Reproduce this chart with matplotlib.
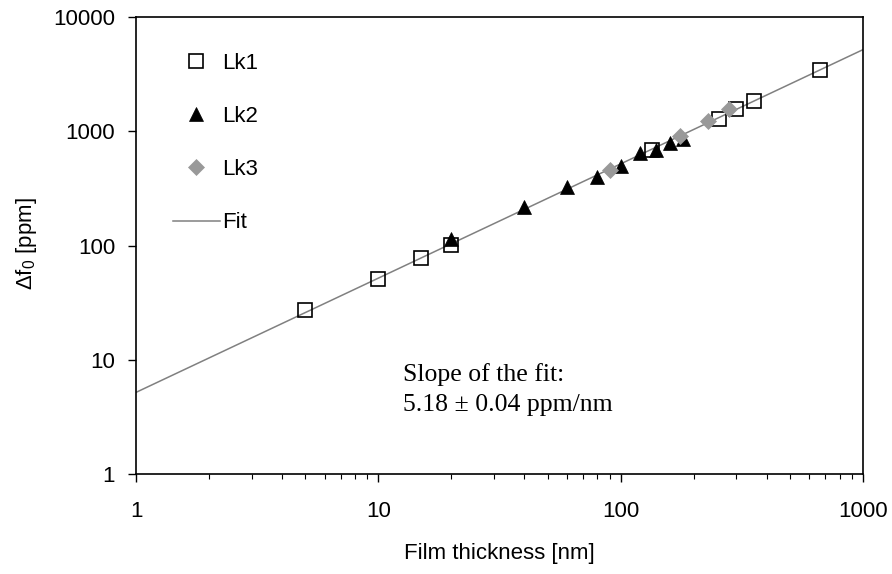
import matplotlib
matplotlib.use("Agg")
import matplotlib.pyplot as plt
from matplotlib.ticker import FixedLocator, FixedFormatter, LogLocator, NullFormatter, NullLocator
from matplotlib.lines import Line2D

plt.rcParams['font.family'] = ['Liberation Sans', 'DejaVu Sans']
plt.rcParams['mathtext.default'] = 'regular'

# ---- data ----
lk1_x = [5, 10, 15, 20, 135, 255, 300, 355, 665]
lk1_y = [27, 51, 77, 101, 685, 1270, 1555, 1840, 3430]

lk2_x = [20, 40, 60, 80, 100, 120, 140, 160, 180]
lk2_y = [115, 218, 323, 395, 496, 641, 685, 794, 855]

lk3_x = [90, 175, 230, 280]
lk3_y = [458, 914, 1236, 1566]

fit_x = [1, 1000]
fit_y = [5.18, 5180]

x_ticks = [1, 10, 100, 1000]
x_ticklabels = ["1", "10", "100", "1000"]
y_ticks = [1, 10, 100, 1000, 10000]
y_ticklabels = ["1", "10", "100", "1000", "10000"]

annotation = "Slope of the fit:\n5.18 \u00b1 0.04 ppm/nm"

# ---- figure ----
fig = plt.figure(figsize=(8.92, 5.74), dpi=100)
ax = fig.add_axes([136/892, 1 - 474/574, (863-136)/892, (474-17)/574])

sq = dict(ls='none', marker='s', ms=9.5, mfc='none', mec='black', mew=1.2)
tri = dict(ls='none', marker='^', ms=9.5, mfc='black', mec='black', mew=0.5)
dia = dict(ls='none', marker='D', ms=7.8, mfc='#999999', mec='#999999', mew=0.5)
fitst = dict(color='#808080', lw=1.1)

ax.plot(fit_x, fit_y, zorder=1, **fitst)
ax.plot(lk1_x, lk1_y, zorder=2, **sq)
ax.plot(lk2_x, lk2_y, zorder=3, **tri)
ax.plot(lk3_x, lk3_y, zorder=4, **dia)

ax.set_xscale('log')
ax.set_yscale('log')
ax.set_xlim(1, 1000)
ax.set_ylim(1, 10000)

ax.xaxis.set_major_locator(FixedLocator(x_ticks))
ax.xaxis.set_major_formatter(FixedFormatter(x_ticklabels))
ax.xaxis.set_minor_locator(LogLocator(base=10, subs=[2, 3, 4, 5, 6, 7, 8, 9]))
ax.xaxis.set_minor_formatter(NullFormatter())
ax.yaxis.set_major_locator(FixedLocator(y_ticks))
ax.yaxis.set_major_formatter(FixedFormatter(y_ticklabels))
ax.yaxis.set_minor_locator(NullLocator())

ax.tick_params(axis='x', which='major', direction='out', length=5.5, width=1.0, labelsize=16, pad=14)
ax.tick_params(axis='x', which='minor', direction='out', length=3.5, width=0.8)
ax.tick_params(axis='y', which='major', direction='out', length=6, width=1.0, labelsize=16, pad=9)

for s in ax.spines.values():
    s.set_linewidth(1.2)
    s.set_color('black')

ax.set_xlabel("Film thickness [nm]", fontsize=16, labelpad=15)
ax.set_ylabel(r"$\Delta$f$_0$ [ppm]", fontsize=16)
ax.yaxis.set_label_coords(-0.133, 0.505)

ax.text(0.367, 0.242, annotation, transform=ax.transAxes, ha='left', va='top',
        fontsize=18.5, family='Liberation Serif', linespacing=1.45)

handles = [Line2D([], [], **sq), Line2D([], [], **tri), Line2D([], [], **dia), Line2D([], [], **fitst)]
labels = ["Lk1", "Lk2", "Lk3", "Fit"]
ax.legend(handles, labels, loc='upper left', bbox_to_anchor=(0.051, 0.922),
          frameon=False, fontsize=16, handlelength=2.1, handletextpad=0.12,
          labelspacing=1.45, borderpad=0, borderaxespad=0)

fig.savefig("out.png", dpi=100)
